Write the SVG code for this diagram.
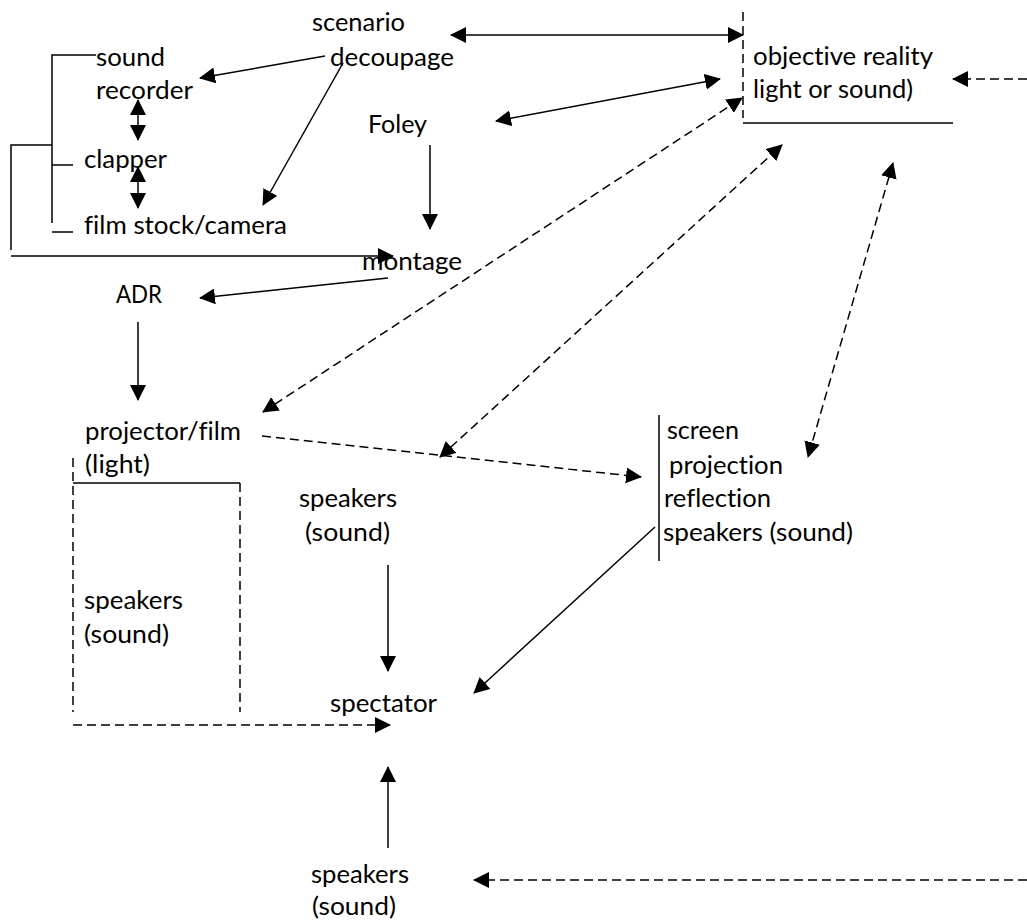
<svg xmlns="http://www.w3.org/2000/svg" width="1027" height="923" viewBox="0 0 1027 923">
  <style>
    text { font-family: Lato, "Open Sans", "Liberation Sans", sans-serif; font-size: 25px; fill: #000; font-variant-ligatures: none; }
    .ln { stroke: #000; stroke-width: 1.5; fill: none; }
    .dash { stroke-dasharray: 9 5; }
    .end { marker-end: url(#ah); }
    .both { marker-start: url(#ah); marker-end: url(#ah); }
  </style>
  <defs>
    <marker id="ah" viewBox="0 0 16 16" markerUnits="userSpaceOnUse" markerWidth="16" markerHeight="16" refX="15" refY="8" orient="auto-start-reverse">
      <path d="M0,0 L16,8 L0,16 z" fill="#000"/>
    </marker>
  </defs>
  <rect width="1027" height="923" fill="#fff"/>

  <!-- production chain -->
  <g id="scenario"><text x="312" y="31" textLength="93" lengthAdjust="spacingAndGlyphs">scenario</text></g>
  <g id="decoupage"><text x="330" y="66" textLength="124" lengthAdjust="spacingAndGlyphs">decoupage</text></g>
  <g id="sound-recorder">
    <text x="96" y="66" textLength="69" lengthAdjust="spacingAndGlyphs">sound</text>
    <text x="96" y="99" textLength="97" lengthAdjust="spacingAndGlyphs">recorder</text>
  </g>
  <g id="foley"><text x="368" y="133" textLength="59" lengthAdjust="spacingAndGlyphs">Foley</text></g>
  <g id="clapper"><text x="84" y="168" textLength="83" lengthAdjust="spacingAndGlyphs">clapper</text></g>
  <g id="film-stock"><text x="84" y="234" textLength="203" lengthAdjust="spacingAndGlyphs">film stock/camera</text></g>
  <g id="montage"><text x="362" y="270" textLength="100" lengthAdjust="spacingAndGlyphs">montage</text></g>
  <g id="adr"><text x="116" y="303" textLength="46" lengthAdjust="spacingAndGlyphs">ADR</text></g>

  <!-- reality -->
  <g id="objective-reality">
    <line class="ln dash" x1="743" y1="12" x2="743" y2="118"/>
    <line class="ln" x1="743" y1="123" x2="953" y2="123"/>
    <text x="753" y="65" textLength="180" lengthAdjust="spacingAndGlyphs">objective reality</text>
    <text x="753" y="98" textLength="160" lengthAdjust="spacingAndGlyphs">light or sound)</text>
  </g>

  <!-- exhibition -->
  <g id="projector">
    <text x="85" y="440" textLength="156" lengthAdjust="spacingAndGlyphs">projector/film</text>
    <text x="85" y="473" textLength="65" lengthAdjust="spacingAndGlyphs">(light)</text>
  </g>
  <g id="speakers-box">
    <line class="ln dash" x1="73" y1="458" x2="73" y2="712"/>
    <line class="ln" x1="73" y1="483" x2="240" y2="483"/>
    <line class="ln dash" x1="240" y1="483" x2="240" y2="712"/>
    <text x="84" y="609" textLength="99" lengthAdjust="spacingAndGlyphs">speakers</text>
    <text x="84" y="643" textLength="85" lengthAdjust="spacingAndGlyphs">(sound)</text>
  </g>
  <g id="speakers-mid">
    <text x="299" y="507" textLength="98" lengthAdjust="spacingAndGlyphs">speakers</text>
    <text x="305" y="541" textLength="85" lengthAdjust="spacingAndGlyphs">(sound)</text>
  </g>
  <g id="screen">
    <line class="ln" x1="659" y1="415" x2="659" y2="561"/>
    <text x="667" y="439" textLength="72" lengthAdjust="spacingAndGlyphs">screen</text>
    <text x="669" y="474" textLength="114" lengthAdjust="spacingAndGlyphs">projection</text>
    <text x="664" y="507" textLength="107" lengthAdjust="spacingAndGlyphs">reflection</text>
    <text x="663" y="541" textLength="190" lengthAdjust="spacingAndGlyphs">speakers (sound)</text>
  </g>
  <g id="spectator"><text x="330" y="712" textLength="107" lengthAdjust="spacingAndGlyphs">spectator</text></g>
  <g id="speakers-bottom">
    <text x="311" y="883" textLength="98" lengthAdjust="spacingAndGlyphs">speakers</text>
    <text x="312" y="915" textLength="84" lengthAdjust="spacingAndGlyphs">(sound)</text>
  </g>

  <g id="connectors">
    <!-- brackets on the left -->
    <polyline class="ln" points="96,55 52,55 52,223"/>
    <line class="ln" x1="52" y1="165" x2="73" y2="165"/>
    <line class="ln" x1="52" y1="232" x2="73" y2="232"/>
    <polyline class="ln" points="52,145 11,145 11,250"/>
    <line class="ln end" x1="11" y1="256" x2="393" y2="256"/>

    <line class="ln end" x1="325" y1="56" x2="200" y2="78"/>
    <line class="ln end" x1="343" y1="63" x2="263" y2="205"/>
    <line class="ln both" x1="138" y1="100" x2="138" y2="140"/>
    <line class="ln both" x1="138" y1="167" x2="138" y2="208"/>
    <line class="ln end" x1="430" y1="145" x2="430" y2="229"/>
    <line class="ln end" x1="388" y1="278" x2="200" y2="298"/>
    <line class="ln end" x1="138" y1="322" x2="138" y2="400"/>

    <line class="ln both" x1="451" y1="35" x2="743" y2="35"/>
    <line class="ln both" x1="496" y1="121" x2="720" y2="79"/>
    <line class="ln dash end" x1="1027" y1="79" x2="953" y2="79"/>
    <line class="ln dash both" x1="263" y1="412" x2="742" y2="98"/>
    <line class="ln dash both" x1="440" y1="457" x2="782" y2="145"/>
    <line class="ln dash both" x1="893" y1="163" x2="808" y2="457"/>

    <line class="ln dash end" x1="262" y1="436" x2="641" y2="477"/>
    <line class="ln end" x1="388" y1="565" x2="388" y2="671"/>
    <line class="ln end" x1="655" y1="527" x2="474" y2="693"/>
    <line class="ln dash end" x1="73" y1="725" x2="390" y2="725"/>
    <line class="ln end" x1="388" y1="848" x2="388" y2="767"/>
    <line class="ln dash end" x1="1027" y1="880" x2="474" y2="880"/>
  </g>
</svg>
